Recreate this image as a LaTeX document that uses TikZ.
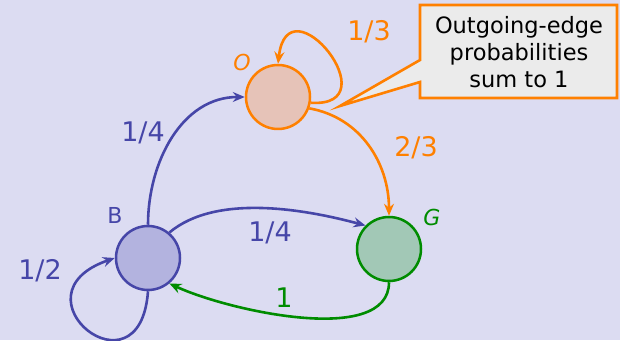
\documentclass[tikz,border=0pt]{standalone}
\usepackage{fontspec}
\setmainfont{DejaVu Sans}
\usetikzlibrary{arrows.meta}
\definecolor{bgc}{HTML}{DCDCF2}
\definecolor{orng}{HTML}{FF8000}
\definecolor{ofill}{HTML}{E6C3B8}
\definecolor{blu}{HTML}{4646A8}
\definecolor{bfill}{HTML}{B3B3DF}
\definecolor{grn}{HTML}{008C00}
\definecolor{gfill}{HTML}{A2C8B6}
\definecolor{boxfill}{HTML}{EBEBEB}
\tikzset{
  state/.style={circle, minimum size=64pt, inner sep=0pt, line width=2.5pt},
  edge/.style={line width=2.6pt, -{Stealth[length=12pt,width=10pt,inset=4pt]}},
  prob/.style={font=\fontsize{27}{30}\selectfont},
  tag/.style={font=\fontsize{22}{24}\selectfont},
}
\begin{document}
\begin{tikzpicture}[x=1pt,y=1pt]
  \useasboundingbox (0,0) rectangle (620,340);
  \fill[bgc] (0,0) rectangle (620,340);

  % states
  \node[state, draw=orng, fill=ofill] (O) at (278,243) {};
  \node[state, draw=blu, fill=bfill]  (B) at (148,82) {};
  \node[state, draw=grn, fill=gfill]  (G) at (389,91) {};

  \node[text=orng, font=\fontsize{22}{24}\selectfont\itshape] (Ol) at (242,278) {O};
  \node[tag, text=blu] (Bl) at (115,125) {B};
  \node[text=grn, font=\fontsize{22}{24}\selectfont\itshape] (Gl) at (432,123) {G};

  % callout
  \draw[orng, line width=2.6pt, fill=boxfill, line join=miter]
    (420,335) -- (617,335) -- (617,242) -- (420,242) -- (420,258)
    -- (340,234) -- (420,280) -- cycle;
  \node[align=center, text=black, font=\fontsize{22.5}{27}\selectfont] (note) at (519,288)
    {Outgoing-edge\\probabilities\\sum to 1};

  % transitions from O
  \draw[edge, orng] (O.-10) .. controls (392,232) and (288,362) .. (O.north);
  \node[prob, text=orng] (p11) at (369,308) {1/3};
  \draw[edge, orng] (O.-20) to[out=-10, in=90] (G.north);
  \node[prob, text=orng] (p12) at (416,192) {2/3};

  % transitions from B
  \draw[edge, blu] (B.north) to[out=90, in=180] (O.west);
  \node[prob, text=blu] (p21) at (143,207) {1/4};
  \draw[edge, blu] (B.50) to[out=40, in=165, looseness=0.8] (G.135);
  \node[prob, text=blu] (p22) at (270,107) {1/4};
  \draw[edge, blu] (B.south) .. controls (140,-62) and (8,45) .. (B.west);
  \node[prob, text=blu] (p23) at (40,69) {1/2};

  % transition from G
  \draw[edge, grn] (G.south) to[out=-90, in=-25, looseness=0.75] (B.-50);
  \node[prob, text=grn] (p31) at (284,42) {1};
\end{tikzpicture}
\end{document}
